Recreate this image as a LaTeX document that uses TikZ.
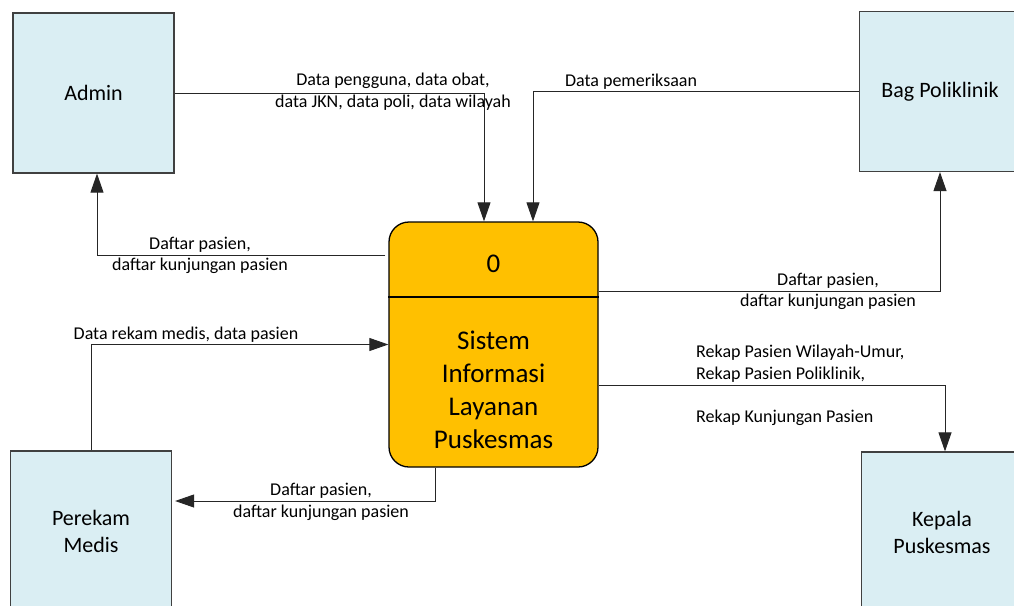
\documentclass[tikz,border=0pt]{standalone}
\usepackage{fontspec}
\setmainfont{Carlito}
\usetikzlibrary{arrows.meta}
\definecolor{entfill}{HTML}{DAEEF3}
\definecolor{procfill}{HTML}{FFC000}
\definecolor{entdraw}{HTML}{404040}
\begin{document}
\begin{tikzpicture}[x=1pt,y=-1pt,
  entity/.style={draw=entdraw, line width=1.2pt, fill=entfill, minimum width=161pt, minimum height=160pt, inner sep=0pt, align=center, font=\fontsize{22}{27}\selectfont},
  procbox/.style={draw=black, line width=1.3pt, fill=procfill, rounded corners=20pt, minimum width=209pt, minimum height=245pt, inner sep=0pt},
  proctext/.style={align=center, inner sep=0pt, font=\fontsize{27}{33}\selectfont},
  flow/.style={draw=black!85, line width=0.9pt, -{Triangle[width=13pt,length=19pt]}},
  lbl/.style={font=\fontsize{18}{21.5}\selectfont, align=center, inner sep=0pt}]
\path[use as bounding box, fill=white] (0,0) rectangle (1014,605);

% entities
\node[entity] (admin) at (93.5,93) {Admin};
\node[entity] (bag) at (940,91.5) {Bag Poliklinik};
\node[entity] (perek) at (91,531) {Perekam\\Medis};
\node[entity] (kepala) at (942,532) {Kepala\\Puskesmas};

% process
\node[procbox] (proc) at (493.5,344.5) {};
\draw[line width=1.3pt] (proc.west |- 0,297) -- (proc.east |- 0,297);
\node[proctext] (pid) at (493.5,264) {0};
\node[proctext] (pname) at (493.5,390) {Sistem\\Informasi\\Layanan\\Puskesmas};

% flows
\draw[flow] (admin.east) -| ([xshift=-9.5pt]proc.north);
\draw[flow] (bag.west) -| ([xshift=39.5pt]proc.north);
\draw[flow] ([yshift=89.5pt,xshift=-3pt]proc.west) -| ([xshift=3.5pt]admin.south);
\draw[flow] ([yshift=53.5pt]proc.east) -| (bag.south);
\draw[flow] (perek.north) |- (proc.west);
\draw[flow] ([xshift=-58.5pt]proc.south) |- ([yshift=30pt,xshift=3pt]perek.east);
\draw[flow] ([yshift=-40.5pt]proc.east) -| ([xshift=3pt]kepala.north);

% labels
\node[lbl] (l1) at (393,91.5) {Data pengguna, data obat,\\data JKN, data poli, data wilayah};
\node[lbl] (l2) at (631,82) {Data pemeriksaan};
\node[lbl] (l3) at (200,255.5) {Daftar pasien,\\daftar kunjungan pasien};
\node[lbl] (l4) at (828,291.5) {Daftar pasien,\\daftar kunjungan pasien};
\node[lbl] (l5) at (186,335) {Data rekam medis, data pasien};
\node[lbl] (l6) at (321,502) {Daftar pasien,\\daftar kunjungan pasien};
\node[lbl, anchor=north west, align=left] (l7) at (696,345) {Rekap Pasien Wilayah-Umur,\\Rekap Pasien Poliklinik,\\[21.5pt]Rekap Kunjungan Pasien};
\end{tikzpicture}
\end{document}
